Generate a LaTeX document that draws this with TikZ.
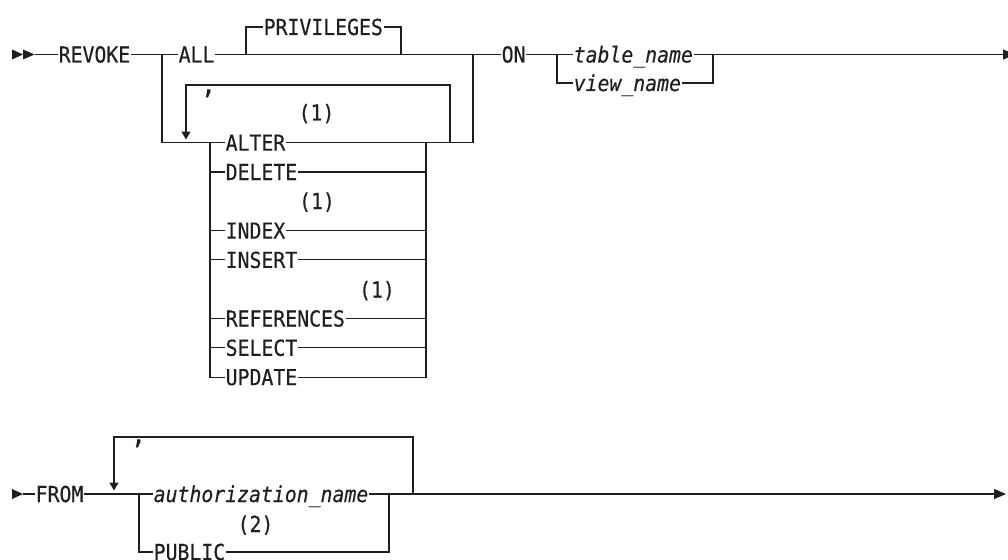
\documentclass[tikz,border=0pt]{standalone}
\usepackage{fontspec}
\newfontfamily\diagfont[FakeStretch=0.9,FakeBold=0.4]{DejaVu Sans Mono}
\usetikzlibrary{arrows.meta}
\begin{document}
\begin{tikzpicture}[x=1pt,y=-1pt,
  lin/.style={line width=1.1pt, draw=black!88},
  txt/.style={font=\diagfont\fontsize{22}{22}\selectfont, inner xsep=0.5pt, inner ysep=0pt,
     text height=16pt, text depth=0pt, anchor=west, text=black!88},
  itx/.style={txt, font=\diagfont\itshape\fontsize{22}{22}\selectfont},
  fn/.style={txt, anchor=center},
  commatxt/.style={txt, font=\diagfont\fontsize{28}{28}\selectfont, anchor=base},
  loopar/.style={lin, -{Triangle[width=9pt,length=8pt]}},
  endar/.style={lin, -{Triangle[width=10pt,length=12pt]}}]
\path[use as bounding box] (0,0) rectangle (1008,559);
\clip (0,0) rectangle (1008,559);

% ---------- Row 1 ----------
\fill[black!88] (12,49.5) -- (23,54.5) -- (12,59.5) -- cycle;
\fill[black!88] (23,49.5) -- (34.5,54.5) -- (23,59.5) -- cycle;
\coordinate (s1) at (34.5,54.5);
\node[txt] (revoke) at (58,54.5) {REVOKE};
\coordinate (j1) at (162,54.5);
\node[txt] (all) at (178,54.5) {ALL};
\coordinate (p1) at (246,54.5);
\coordinate (p2) at (401,54.5);
\node[txt] (priv) at (263,27) {PRIVILEGES};
\coordinate (j2) at (473,54.5);
\node[txt] (on) at (501,54.5) {ON};
\coordinate (j3) at (557,54.5);
\node[itx] (tbl) at (573,54.5) {table\_name};
\node[itx] (view) at (573,83) {view\_name};
\coordinate (j4) at (713,54.5);
\coordinate (e1) at (1015,54.5);

\draw[lin] (s1) -- (revoke.west);
\draw[lin] (revoke.east) -- (j1) -- (all.west);
\draw[lin] (all.east) -- (j2) -- (on.west);
\draw[lin] (p1) |- (priv.west);
\draw[lin] (priv.east) -| (p2);
\draw[lin] (on.east) -- (j3) -- (tbl.west);
\draw[lin] (j3) |- (view.west);
\draw[endar] (tbl.east) -- (e1);
\draw[lin] (view.east) -| (j4);

% ---------- privilege list ----------
\node[txt] (alter) at (225,142.7) {ALTER};
\node[txt] (delete) at (225,172.0) {DELETE};
\node[txt] (index) at (225,230.6) {INDEX};
\node[txt] (insert) at (225,259.9) {INSERT};
\node[txt] (refs) at (225,318.5) {REFERENCES};
\node[txt] (select) at (225,347.8) {SELECT};
\node[txt] (update) at (225,377.1) {UPDATE};
\node[fn] (n1) at (316.5,112.5) {(1)};
\node[fn] (n2) at (317,201) {(1)};
\node[fn] (n3) at (377,289.5) {(1)};

\coordinate (l0) at (210,142.7);
\coordinate (r0) at (426,142.7);
\coordinate (lr) at (450,142.7);
\coordinate (jr) at (473,142.7);
\coordinate (lt1) at (186,85);
\coordinate (la1) at (186,139.5);
\node[commatxt] (c1) at (208.5,93.5) {,};

\draw[lin] (j1) |- (alter.west);
\draw[lin] (l0) |- (update.west);
\foreach \n in {delete,index,insert,refs,select}{
  \draw[lin] (l0 |- \n.west) -- (\n.west);
  \draw[lin] (\n.east) -- (r0 |- \n.east);
}
\draw[lin] (alter.east) -- (r0) -- (lr) -- (jr) -- (j2);
\draw[lin] (r0) |- (update.east);
\draw[loopar] (lr) |- (lt1) -- (la1);

% ---------- Row 2 ----------
\fill[black!88] (12,489) -- (23,494) -- (12,499) -- cycle;
\coordinate (s2) at (23,494);
\node[txt] (from) at (35,494) {FROM};
\coordinate (k1) at (139,494);
\node[itx] (auth) at (153,494) {authorization\_name};
\node[txt] (public) at (153,552) {PUBLIC};
\node[fn] (n4) at (255.5,524) {(2)};
\coordinate (k2) at (389,494);
\coordinate (k3) at (413,494);
\coordinate (lt2) at (114,437);
\coordinate (la2) at (114,490.5);
\coordinate (e2) at (1006,494);
\node[commatxt] (c2) at (138.5,443.5) {,};

\draw[lin] (s2) -- (from.west);
\draw[lin] (from.east) -- (k1) -- (auth.west);
\draw[lin] (k1) |- (public.west);
\draw[lin] (public.east) -| (k2);
\draw[endar] (auth.east) -- (e2);
\draw[loopar] (k3) |- (lt2) -- (la2);
\end{tikzpicture}
\end{document}
